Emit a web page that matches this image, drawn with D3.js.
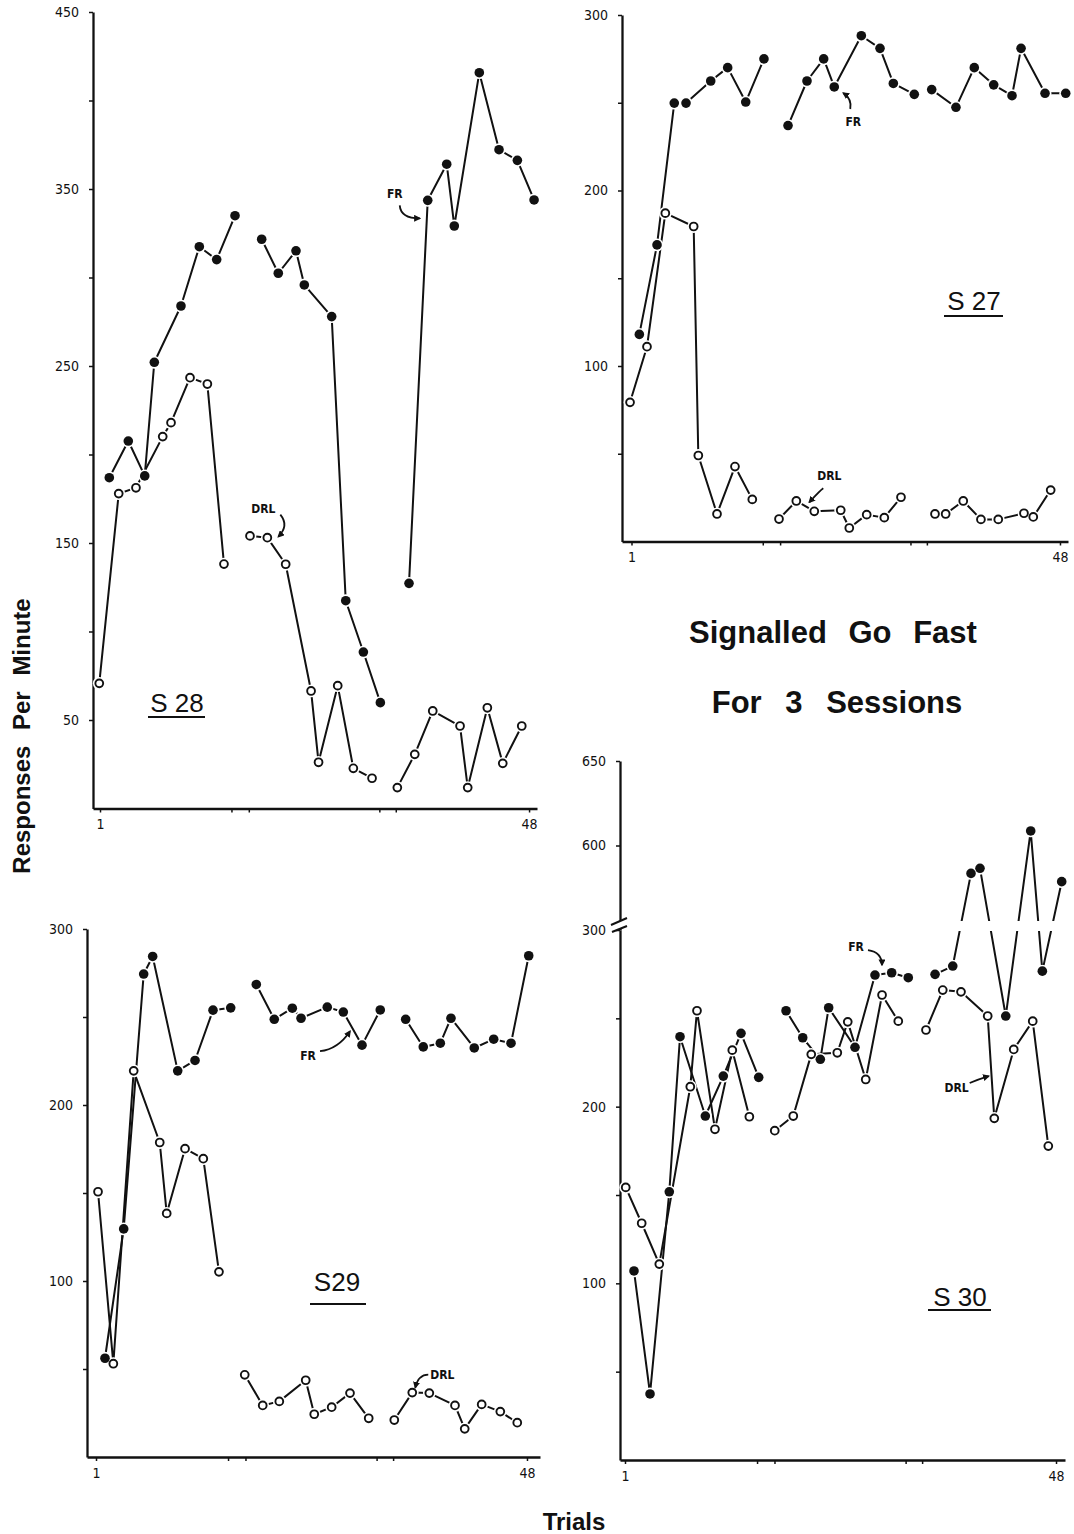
<!DOCTYPE html>
<html>
<head>
<meta charset="utf-8">
<script src="https://cdn.jsdelivr.net/npm/d3@7"></script>
<style>
  body { margin: 0; background: #fff; }
  svg { display: block; }
  .tick text { font-family: "Liberation Sans Narrow", "DejaVu Sans Condensed", sans-serif; font-size: 14px; fill: #111; }
  .note { font-family: "Liberation Sans Narrow", "DejaVu Sans Condensed", sans-serif; font-size: 12px; font-weight: bold; fill: #111; }
  .subject { font-family: "Liberation Sans", Arial, sans-serif; font-size: 26px; fill: #111; }
  .title { font-family: "Liberation Sans", Arial, sans-serif; font-weight: bold; fill: #111; }
</style>
</head>
<body>
<svg id="chart" width="1074" height="1534"></svg>
<script>
// Responses per minute on each trial (1-48, three sessions of 16 trials).
// FR = filled circles, DRL = open circles.

// Subject 28
const s28FrTrials  = [2.02, 4.10, 5.90, 6.95, 9.87, 11.88, 13.78, 15.79, 18.71, 20.53, 22.47, 23.38, 26.38, 27.92, 29.85, 31.71, 34.85, 36.90, 38.98, 39.81, 42.55, 44.71, 46.72, 48.55];
const s28FrRates   = [186.9, 207.6, 187.9, 252.1, 283.9, 317.4, 310.1, 334.9, 321.6, 302.4, 315.1, 295.8, 277.9, 117.4, 88.4, 59.8, 127.2, 343.6, 364.0, 329.1, 415.7, 372.2, 366.2, 343.8];
const s28DrlTrials = [0.92, 3.05, 4.94, 7.87, 8.78, 10.86, 12.76, 14.58, 17.43, 19.33, 21.34, 24.12, 24.94, 27.04, 28.75, 30.80, 33.57, 35.48, 37.45, 40.44, 41.28, 43.43, 45.12, 47.20];
const s28DrlRates  = [70.7, 177.9, 181.2, 210.1, 218.0, 243.4, 239.8, 138.1, 154.0, 153.0, 138.0, 66.4, 26.1, 69.4, 22.7, 17.1, 11.8, 30.6, 55.1, 46.6, 11.8, 56.9, 25.5, 46.6];

// Subject 27
const s27FrTrials  = [1.86, 3.80, 5.69, 6.98, 9.69, 11.55, 13.53, 15.53, 18.17, 20.25, 22.08, 23.24, 26.21, 28.26, 29.72, 32.02, 33.93, 36.59, 38.60, 40.73, 42.74, 43.73, 46.36, 48.63];
const s27FrRates   = [118.0, 169.0, 249.8, 249.8, 262.4, 270.0, 250.4, 275.0, 237.0, 262.4, 275.0, 259.0, 288.2, 281.0, 261.0, 254.8, 257.5, 247.4, 270.0, 260.2, 254.0, 281.0, 255.4, 255.4];
const s27DrlTrials = [0.84, 2.70, 4.71, 7.82, 8.33, 10.38, 12.35, 14.25, 17.18, 19.08, 21.05, 23.95, 24.89, 26.80, 28.73, 30.56, 34.29, 35.46, 37.39, 39.33, 41.23, 44.05, 45.07, 46.98];
const s27DrlRates  = [79.3, 111.0, 187.1, 179.5, 49.0, 15.7, 42.7, 24.0, 12.8, 23.1, 17.2, 17.8, 7.7, 15.3, 13.6, 25.2, 15.7, 15.7, 23.1, 12.6, 12.6, 16.1, 14.0, 29.3];

// Subject 29
const s29FrTrials  = [1.98, 4.02, 6.20, 7.18, 9.91, 11.80, 13.76, 15.69, 18.48, 20.44, 22.41, 23.36, 26.22, 27.97, 30.01, 32.00, 34.77, 36.69, 38.55, 39.71, 42.25, 44.37, 46.26, 48.19];
const s29FrRates   = [56.1, 129.6, 274.4, 284.4, 219.4, 225.3, 253.9, 255.2, 268.5, 248.7, 255.0, 249.3, 255.6, 252.8, 234.0, 254.0, 248.7, 233.0, 235.1, 249.3, 232.4, 237.4, 235.1, 284.8];
const s29DrlTrials = [1.22, 2.89, 5.11, 7.95, 8.71, 10.71, 12.70, 14.41, 17.22, 19.18, 20.99, 23.87, 24.80, 26.70, 28.70, 30.74, 33.53, 35.49, 37.35, 40.15, 41.21, 43.06, 45.09, 46.94];
const s29DrlRates  = [150.7, 53.0, 219.4, 178.7, 138.4, 175.2, 169.5, 105.2, 46.7, 29.3, 31.6, 43.6, 24.3, 28.3, 36.3, 22.0, 21.0, 36.6, 36.3, 29.3, 16.0, 29.9, 25.8, 19.5];

// Subject 30 (axis broken between 300 and 550)
const s30FrTrials  = [1.98, 3.73, 5.83, 7.00, 9.76, 11.72, 13.65, 15.58, 18.56, 20.38, 22.30, 23.21, 26.08, 28.26, 30.08, 31.89, 34.81, 36.74, 38.73, 39.71, 42.52, 45.24, 46.51, 48.62];
const s30FrRates   = [107.0, 37.4, 151.8, 239.6, 194.7, 217.3, 241.5, 216.6, 254.3, 239.0, 226.8, 256.0, 233.6, 274.5, 275.8, 273.0, 274.9, 279.6, 583.5, 586.5, 251.3, 608.6, 276.7, 578.6];
const s30DrlTrials = [1.08, 2.82, 4.74, 8.12, 8.85, 10.81, 12.70, 14.56, 17.33, 19.35, 21.31, 24.15, 25.29, 27.25, 29.03, 30.80, 33.82, 35.65, 37.64, 40.55, 41.27, 43.39, 45.46, 47.16];
const s30DrlRates  = [154.3, 134.0, 110.9, 211.3, 254.3, 187.2, 232.0, 194.3, 186.4, 194.7, 229.6, 230.5, 248.0, 215.4, 263.2, 248.4, 243.4, 266.0, 265.0, 251.3, 193.4, 232.4, 248.4, 177.7];

// Axis ticks
const sessionBreaks = [16.5, 32.8];
const trialTicks = [1, 15.4, 17.3, 31.6, 33.4, 48];
const trialTickLabels = [1, 48];
const rateTicks450 = [50, 100, 150, 200, 250, 300, 350, 400, 450];
const rateLabels450 = [50, 150, 250, 350, 450];
const rateTicks300 = [50, 100, 150, 200, 250, 300];
const rateLabels300 = [100, 200, 300];
const rateTicksHigh = [600, 650];

const sessionOf = t => t < sessionBreaks[0] ? 0 : (t < sessionBreaks[1] ? 1 : 2);

const svg = d3.select("#chart");

svg.append("defs").append("marker")
  .attr("id", "head")
  .attr("viewBox", "0 0 10 10")
  .attr("refX", 8).attr("refY", 5)
  .attr("markerWidth", 7).attr("markerHeight", 7)
  .attr("markerUnits", "userSpaceOnUse")
  .attr("orient", "auto")
  .append("path").attr("d", "M0,0L10,5L0,10Z").attr("fill", "#111");

// Broken scale for subject 30
const s30Low = d3.scaleLinear().domain([0, 300]).range([1460, 930]);
const s30High = d3.scaleLinear().domain([550, 650]).range([930, 761]);
const s30Y = v => v > 400 ? s30High(v) : s30Low(v);

const panels = [
  {
    label: "S 28", left: 93, right: 537, xDomain: [0.233, 48.87],
    y: d3.scaleLinear().domain([0, 450]).range([808.5, 12]),
    yAxes: [{ ticks: rateTicks450, labels: rateLabels450 }],
    fr: [s28FrTrials, s28FrRates], drl: [s28DrlTrials, s28DrlRates],
    labelPos: [177, 712], underline: [148, 205, 717],
    notes: [
      { text: "FR", series: "fr", i: 17, txt: [-33, -2], from: [-28, 5], ctrl: [-27, 18], to: [-8, 18] },
      { text: "DRL", series: "drl", i: 9, txt: [-4, -25], from: [13, -23], ctrl: [22, -12], to: [11, -1] }
    ]
  },
  {
    label: "S 27", left: 622, right: 1068, xDomain: [-0.042, 48.88],
    y: d3.scaleLinear().domain([0, 300]).range([541.5, 15]),
    yAxes: [{ ticks: rateTicks300, labels: rateLabels300 }],
    fr: [s27FrTrials, s27FrRates], drl: [s27DrlTrials, s27DrlRates],
    labelPos: [974, 310], underline: [944, 1003, 316],
    notes: [
      { text: "FR", series: "fr", i: 11, txt: [19, 39], from: [16, 22], ctrl: [18, 12], to: [9, 6] },
      { text: "DRL", series: "drl", i: 10, txt: [15, -31], from: [9, -23], ctrl: [6, -21], to: [-5, -9] }
    ]
  },
  {
    label: "S29", left: 87, right: 540, xDomain: [0.018, 49.42],
    y: d3.scaleLinear().domain([0, 300]).range([1457, 929]),
    yAxes: [{ ticks: rateTicks300, labels: rateLabels300 }],
    fr: [s29FrTrials, s29FrRates], drl: [s29DrlTrials, s29DrlRates],
    labelPos: [337, 1291], underline: [310, 366, 1304],
    notes: [
      { text: "FR", series: "fr", i: 14, txt: [-54, 15], from: [-42, 6], ctrl: [-24, 4], to: [-12, -14] },
      { text: "DRL", series: "drl", i: 17, txt: [30, -14], from: [16, -18], ctrl: [6, -18], to: [3, -5] }
    ]
  },
  {
    label: "S 30", left: 620, right: 1065, xDomain: [0.455, 48.98],
    y: s30Y, broken: true,
    yAxes: [{ ticks: rateTicks300, labels: rateLabels300, scale: s30Low },
            { ticks: rateTicksHigh, labels: rateTicksHigh, scale: s30High }],
    fr: [s30FrTrials, s30FrRates], drl: [s30DrlTrials, s30DrlRates],
    labelPos: [960, 1306], underline: [928, 991, 1310],
    notes: [
      { text: "FR", series: "fr", i: 13, txt: [-19, -24], from: [-7, -25], ctrl: [7, -23], to: [7, -10] },
      { text: "DRL", series: "drl", i: 19, txt: [-31, 76], from: [-18, 67], ctrl: [-9, 63], to: [1, 60] }
    ]
  }
];

function styleAxis(sel) {
  sel.select(".domain").attr("stroke", "#111").attr("stroke-width", 2.3);
  sel.selectAll(".tick line").attr("stroke", "#111").attr("stroke-width", 1.5);
}

panels.forEach(p => {
  const g = svg.append("g");
  const x = d3.scaleLinear().domain(p.xDomain).range([p.left, p.right]);
  const y = p.y;
  const baseY = y(0);

  // y axes
  p.yAxes.forEach(a => {
    const sc = a.scale || y;
    g.append("g")
      .attr("transform", `translate(${p.left},0)`)
      .call(d3.axisLeft(sc).tickValues(a.ticks).tickSizeInner(4).tickSizeOuter(0).tickPadding(10)
        .tickFormat(v => a.labels.includes(v) ? String(v) : ""))
      .call(styleAxis);
  });

  // x axis
  g.append("g")
    .attr("transform", `translate(0,${baseY})`)
    .call(d3.axisBottom(x).tickValues(trialTicks).tickSizeInner(4).tickSizeOuter(0).tickPadding(7)
      .tickFormat(t => trialTickLabels.includes(t) ? String(t) : ""))
    .call(styleAxis);

  const series = {
    fr: p.fr[0].map((t, i) => ({ t, v: p.fr[1][i] })),
    drl: p.drl[0].map((t, i) => ({ t, v: p.drl[1][i] }))
  };

  const line = d3.line().x(d => x(d.t)).y(d => y(d.v));
  ["drl", "fr"].forEach(k => {
    d3.groups(series[k], d => sessionOf(d.t)).forEach(([, pts]) => {
      g.append("path").attr("d", line(pts))
        .attr("fill", "none").attr("stroke", "#111").attr("stroke-width", 2)
        .attr("stroke-linejoin", "round");
    });
  });

  if (p.broken) {
    // gap in the plotted lines where the scale is interrupted
    const yb = s30Low(300);
    g.append("rect").attr("x", p.left + 3).attr("y", yb - 9).attr("width", p.right - p.left).attr("height", 10).attr("fill", "#fff");
    // break marks on the axis
    g.append("path").attr("d", `M${p.left - 9},${yb - 5}L${p.left + 7},${yb - 12}L${p.left + 7},${yb - 4}L${p.left - 8},${yb + 2}Z`).attr("fill", "#fff");
    g.append("path").attr("d", `M${p.left - 9},${yb - 5}L${p.left + 7},${yb - 12}M${p.left - 8},${yb + 2}L${p.left + 7},${yb - 4}`)
      .attr("stroke", "#111").attr("stroke-width", 2).attr("fill", "none");
  }

  // white halos so lines stop short of markers
  const all = series.drl.concat(series.fr);
  g.selectAll(null).data(all).join("circle")
    .attr("cx", d => x(d.t)).attr("cy", d => y(d.v)).attr("r", 6.4).attr("fill", "#fff");

  g.selectAll(null).data(series.drl).join("circle")
    .attr("cx", d => x(d.t)).attr("cy", d => y(d.v)).attr("r", 3.9)
    .attr("fill", "#fff").attr("stroke", "#111").attr("stroke-width", 1.9);
  g.selectAll(null).data(series.fr).join("circle")
    .attr("cx", d => x(d.t)).attr("cy", d => y(d.v)).attr("r", 4.8).attr("fill", "#111");

  // component annotations with curved arrows
  p.notes.forEach(n => {
    const d = series[n.series][n.i];
    const px = x(d.t), py = y(d.v);
    g.append("text").attr("class", "note").attr("text-anchor", "middle")
      .attr("x", px + n.txt[0]).attr("y", py + n.txt[1]).text(n.text);
    const path = d3.path();
    path.moveTo(px + n.from[0], py + n.from[1]);
    path.quadraticCurveTo(px + n.ctrl[0], py + n.ctrl[1], px + n.to[0], py + n.to[1]);
    g.append("path").attr("d", path.toString()).attr("fill", "none")
      .attr("stroke", "#111").attr("stroke-width", 1.8).attr("marker-end", "url(#head)");
  });

  // subject label
  g.append("text").attr("class", "subject").attr("text-anchor", "middle")
    .attr("x", p.labelPos[0]).attr("y", p.labelPos[1]).text(p.label);
  g.append("line").attr("x1", p.underline[0]).attr("x2", p.underline[1])
    .attr("y1", p.underline[2]).attr("y2", p.underline[2])
    .attr("stroke", "#111").attr("stroke-width", 2);
});

// Titles
svg.append("text").attr("class", "title").attr("text-anchor", "middle")
  .attr("x", 833).attr("y", 643).attr("font-size", 31).attr("word-spacing", 13)
  .text("Signalled Go Fast");
svg.append("text").attr("class", "title").attr("text-anchor", "middle")
  .attr("x", 837).attr("y", 713).attr("font-size", 31).attr("word-spacing", 15)
  .text("For 3 Sessions");
svg.append("text").attr("class", "title").attr("text-anchor", "middle")
  .attr("transform", "translate(30,736) rotate(-90)").attr("font-size", 24).attr("word-spacing", 9)
  .text("Responses Per Minute");
svg.append("text").attr("class", "title").attr("text-anchor", "middle")
  .attr("x", 574).attr("y", 1530).attr("font-size", 24)
  .text("Trials");
</script>
</body>
</html>
